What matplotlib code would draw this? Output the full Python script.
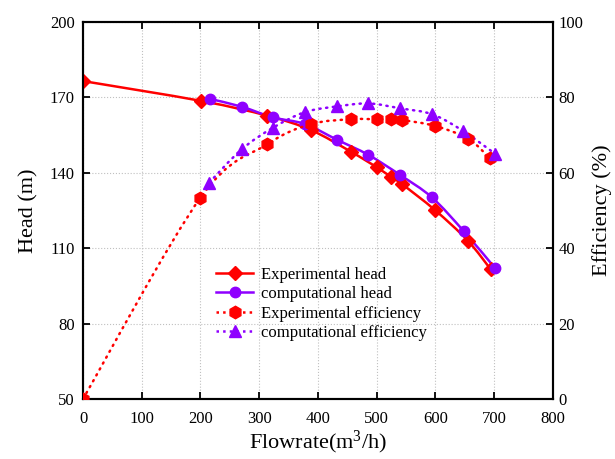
import numpy as np
import matplotlib.pyplot as plt
from matplotlib.path import Path
from matplotlib.patches import PathPatch
from matplotlib.lines import Line2D

plt.rcParams['font.family'] = ['Liberation Serif', 'DejaVu Serif']
plt.rcParams['mathtext.default'] = 'regular'

# data
flow_exp_head = [0, 201, 314, 388, 456, 500, 524, 543, 599, 655, 694]
head_exp = [176.5, 168.6, 162.7, 157.0, 148.4, 142.2, 138.4, 135.5, 125.2, 113.0, 101.6]
flow_cfd_head = [216, 270, 324, 378, 432, 486, 540, 594, 648, 701]
head_cfd = [169.4, 166.3, 162.0, 159.4, 153.2, 147.1, 139.1, 130.2, 116.8, 102.2]
flow_exp_eff = [0, 200, 314, 388, 457, 500, 524, 543, 600, 656, 693]
eff_exp = [0, 53.4, 67.6, 72.9, 74.2, 74.2, 74.2, 74.0, 72.4, 69.0, 63.8]
flow_cfd_eff = [215, 270, 324, 378, 432, 486, 540, 595, 647, 702]
eff_cfd = [57.4, 66.2, 72.0, 76.1, 77.6, 78.4, 77.1, 75.5, 71.1, 65.0]

RED = '#FF0000'
PURPLE = '#8F00FF'


def smooth_path(x, y):
    # Catmull-Rom spline through the points, as cubic Bezier segments
    pts = np.column_stack([np.asarray(x, float), np.asarray(y, float)])
    n = len(pts)
    verts = [pts[0]]
    codes = [Path.MOVETO]
    for i in range(n - 1):
        p0 = pts[max(i - 1, 0)]
        p1 = pts[i]
        p2 = pts[i + 1]
        p3 = pts[min(i + 2, n - 1)]
        verts += [p1 + (p2 - p0) / 6, p2 - (p3 - p1) / 6, p2]
        codes += [Path.CURVE4] * 3
    return Path(verts, codes)


def draw_series(ax, x, y, color, ls, marker, ms):
    patch = PathPatch(smooth_path(x, y), facecolor='none', edgecolor=color,
                      lw=1.8, linestyle=ls, capstyle='round', zorder=3)
    ax.add_patch(patch)
    ax.plot(x, y, linestyle='none', marker=marker, ms=ms, color=color, zorder=4)


fig = plt.figure(figsize=(6.15, 4.59), dpi=100)
ax = fig.add_axes([0.135, 0.131, 0.764, 0.821])
ax2 = ax.twinx()

dots = (0, (0.5, 2.2))
draw_series(ax, flow_exp_head, head_exp, RED, '-', 'D', 7)
draw_series(ax, flow_cfd_head, head_cfd, PURPLE, '-', 'o', 7.5)
draw_series(ax2, flow_exp_eff, eff_exp, RED, dots, 'h', 9)
draw_series(ax2, flow_cfd_eff, eff_cfd, PURPLE, dots, '^', 8)

ax.set_xlim(0, 800)
ax.set_ylim(50, 200)
ax2.set_ylim(0, 100)
ax.set_xticks(range(0, 801, 100))
ax.set_yticks(range(50, 201, 30))
ax2.set_yticks(range(0, 101, 20))

ax.grid(True, linestyle=':', color='#c0c0c0', lw=0.8)
ax.tick_params(direction='in', top=True, length=5, width=1.3, labelsize=12)
ax.tick_params(axis='x', pad=9)
ax.tick_params(axis='y', pad=6)
ax2.tick_params(direction='in', length=5, width=1.3, labelsize=12, pad=4)
for a in (ax, ax2):
    for s in a.spines.values():
        s.set_linewidth(1.5)

ax.set_xlabel('Flowrate(m$^{3}$/h)', fontsize=16, labelpad=1)
ax.set_ylabel('Head (m)', fontsize=16, labelpad=8)
ax2.set_ylabel('Efficiency (%)', fontsize=16, labelpad=6)

handles = [
    Line2D([], [], color=RED, lw=1.8, marker='D', ms=7),
    Line2D([], [], color=PURPLE, lw=1.8, marker='o', ms=7.5),
    Line2D([], [], color=RED, lw=1.8, ls=':', marker='h', ms=9),
    Line2D([], [], color=PURPLE, lw=1.8, ls=':', marker='^', ms=8),
]
labels = ['Experimental head', 'computational head',
          'Experimental efficiency', 'computational efficiency']
ax2.legend(handles, labels, loc='upper left', bbox_to_anchor=(0.252, 0.39),
           frameon=False, fontsize=12, labelspacing=0.2, handlelength=2.2,
           handletextpad=0.5)

fig.savefig('out.png', dpi=100)
